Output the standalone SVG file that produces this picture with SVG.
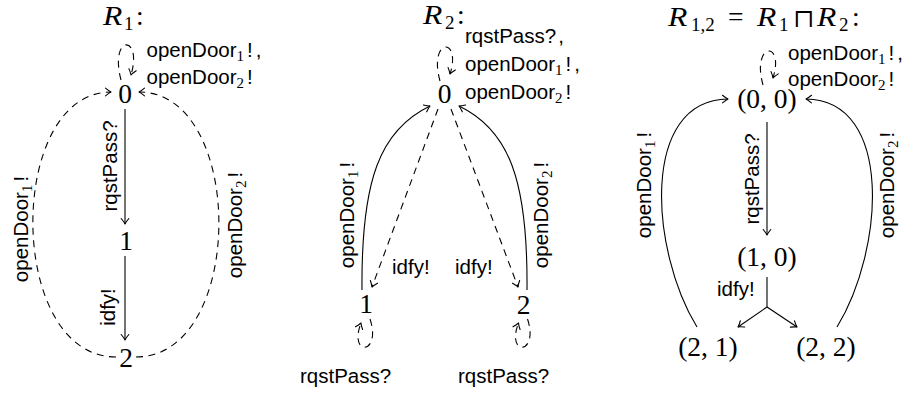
<svg xmlns="http://www.w3.org/2000/svg" width="915" height="397" viewBox="0 0 915 397">
  <style>
    .m { font-family: "Liberation Serif", "DejaVu Serif", serif; font-size: 27.5px; fill: #000; }
    .mi { font-style: italic; }
    .ms { font-size: 19px; }
    .l { font-family: "Liberation Sans", "DejaVu Sans", sans-serif; font-size: 20.5px; fill: #000; }
    .sub { font-family: "Liberation Serif", "DejaVu Serif", serif; font-size: 15px; }
    .e { fill: none; stroke: #000; stroke-width: 1.1; }
    .d { stroke-dasharray: 7 5.5; }
    .a { marker-end: url(#tip); }
  </style>
  <defs>
    <marker id="tip" viewBox="-8 -5 10 10" refX="0" refY="0" markerWidth="10" markerHeight="10" markerUnits="userSpaceOnUse" orient="auto" overflow="visible">
      <path d="M-5.5,-3.8 Q-2,-0.9 0,0 Q-2,0.9 -5.5,3.8" fill="none" stroke="#000" stroke-width="1.1" stroke-linecap="round" stroke-linejoin="round"/>
    </marker>
  </defs>

  <!-- ===== Automaton R1 ===== -->
  <g id="r1-title" class="m">
    <text class="mi" transform="translate(103,25) scale(1.15,1)">R</text>
    <text class="ms" x="124" y="30">1</text>
    <text x="136" y="25">:</text>
  </g>
  <g id="r1-s0">
    <text class="m" x="125" y="103" text-anchor="middle">0</text>
  </g>
  <g id="r1-s1">
    <text class="m" x="126" y="250" text-anchor="middle">1</text>
  </g>
  <g id="r1-s2">
    <text class="m" x="126" y="367" text-anchor="middle">2</text>
  </g>

  <!-- ===== Automaton R2 ===== -->
  <g id="r2-title" class="m">
    <text class="mi" transform="translate(423,24) scale(1.15,1)">R</text>
    <text class="ms" x="445" y="29">2</text>
    <text x="457" y="24">:</text>
  </g>
  <g id="r2-s0">
    <text class="m" x="444.5" y="103" text-anchor="middle">0</text>
  </g>
  <g id="r2-s1">
    <text class="m" x="366" y="313" text-anchor="middle">1</text>
  </g>
  <g id="r2-s2">
    <text class="m" x="523.5" y="314" text-anchor="middle">2</text>
  </g>

  <!-- ===== Product automaton R1,2 ===== -->
  <g id="r12-title" class="m">
    <text class="mi" transform="translate(668,26) scale(1.15,1)">R</text>
    <text class="ms" x="691" y="31">1,2</text>
    <text x="728" y="26">=</text>
    <text class="mi" transform="translate(757,26) scale(1.15,1)">R</text>
    <text class="ms" x="779" y="31">1</text>
    <text x="793" y="26.5" font-size="25">⊓</text>
    <text class="mi" transform="translate(817,26) scale(1.15,1)">R</text>
    <text class="ms" x="839" y="31">2</text>
    <text x="852" y="26">:</text>
  </g>
  <g id="r12-s00">
    <text class="m" x="767" y="108" text-anchor="middle">(0, 0)</text>
  </g>
  <g id="r12-s10">
    <text class="m" x="767" y="266" text-anchor="middle">(1, 0)</text>
  </g>
  <g id="r12-s21">
    <text class="m" x="708" y="356" text-anchor="middle">(2, 1)</text>
  </g>
  <g id="r12-s22">
    <text class="m" x="826" y="356" text-anchor="middle">(2, 2)</text>
  </g>

  <!-- ===== Transitions ===== -->
  <g id="edges">
    <!-- R1 -->
    <path class="e d a" d="M121,80 C109,34 143,34 131,75"/>
    <path class="e a" d="M125,109 L125,224"/>
    <path class="e a" d="M125,256 L125,340"/>
    <path class="e d a" d="M116,357 C6,357 6,92 111,92"/>
    <path class="e d a" d="M136,357 C246,357 246,92 139,92"/>

    <!-- R2 -->
    <path class="e d a" d="M440,81 C428,37 462,37 450,74"/>
    <path class="e a" d="M362,290 C361,180 380,130 430,106"/>
    <path class="e a" d="M527,290 C528,180 509,130 459,106"/>
    <path class="e d a" d="M438,109 L372,287"/>
    <path class="e d a" d="M451,109 L518,287"/>
    <path class="e d a" d="M370,319 C382,355 348,357 361,323"/>
    <path class="e d a" d="M527.5,319 C539.5,355 505.5,357 518.5,323"/>

    <!-- R1,2 -->
    <path class="e d a" d="M763,85 C751,42 785,40 773,78"/>
    <path class="e a" d="M767,122 L767,235"/>
    <path class="e" d="M767,277 L767,307"/>
    <path class="e a" d="M767,307 L738,327"/>
    <path class="e a" d="M767,307 L797,327"/>
    <path class="e a" d="M697,327 C650,250 640,100 728,99"/>
    <path class="e a" d="M837,327 C884,250 894,100 806,99"/>
  </g>

  <!-- ===== Transition labels ===== -->
  <g id="labels">
    <!-- R1 -->
    <text class="l" x="146.5" y="57">openDoor<tspan class="sub" dy="4">1</tspan><tspan dx="3" dy="-4">!</tspan><tspan dx="3">,</tspan></text>
    <text class="l" x="146.5" y="84">openDoor<tspan class="sub" dy="4">2</tspan><tspan dx="3" dy="-4">!</tspan></text>
    <text class="l" text-anchor="middle" transform="translate(116.5,166) rotate(-90)">rqstPass?</text>
    <text class="l" text-anchor="middle" transform="translate(115,307) rotate(-90)">idfy!</text>
    <text class="l" text-anchor="middle" transform="translate(28,229) rotate(-90)">openDoor<tspan class="sub" dy="4">1</tspan><tspan dx="3" dy="-4">!</tspan></text>
    <text class="l" text-anchor="middle" transform="translate(242,225) rotate(-90)">openDoor<tspan class="sub" dy="4">2</tspan><tspan dx="3" dy="-4">!</tspan></text>

    <!-- R2 -->
    <text class="l" x="465" y="43">rqstPass?<tspan dx="2">,</tspan></text>
    <text class="l" x="465" y="71">openDoor<tspan class="sub" dy="4">1</tspan><tspan dx="3" dy="-4">!</tspan><tspan dx="3">,</tspan></text>
    <text class="l" x="465" y="99">openDoor<tspan class="sub" dy="4">2</tspan><tspan dx="3" dy="-4">!</tspan></text>
    <text class="l" text-anchor="middle" transform="translate(354,215) rotate(-90)">openDoor<tspan class="sub" dy="4">1</tspan><tspan dx="3" dy="-4">!</tspan></text>
    <text class="l" text-anchor="middle" transform="translate(548,215) rotate(-90)">openDoor<tspan class="sub" dy="4">2</tspan><tspan dx="3" dy="-4">!</tspan></text>
    <text class="l" x="392" y="274">idfy!</text>
    <text class="l" x="455" y="274">idfy!</text>
    <text class="l" x="300" y="383">rqstPass?</text>
    <text class="l" x="458" y="383">rqstPass?</text>

    <!-- R1,2 -->
    <text class="l" x="788" y="60">openDoor<tspan class="sub" dy="4">1</tspan><tspan dx="3" dy="-4">!</tspan><tspan dx="3">,</tspan></text>
    <text class="l" x="788" y="86">openDoor<tspan class="sub" dy="4">2</tspan><tspan dx="3" dy="-4">!</tspan></text>
    <text class="l" text-anchor="middle" transform="translate(759,179) rotate(-90)">rqstPass?</text>
    <text class="l" x="717" y="296">idfy!</text>
    <text class="l" text-anchor="middle" transform="translate(651,185) rotate(-90)">openDoor<tspan class="sub" dy="4">1</tspan><tspan dx="3" dy="-4">!</tspan></text>
    <text class="l" text-anchor="middle" transform="translate(894,185) rotate(-90)">openDoor<tspan class="sub" dy="4">2</tspan><tspan dx="3" dy="-4">!</tspan></text>
  </g>
</svg>
